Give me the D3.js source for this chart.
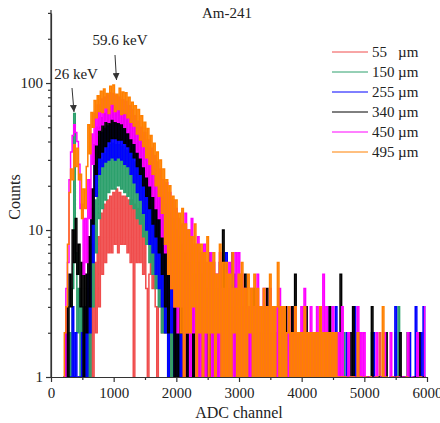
<!DOCTYPE html>
<html>
<head>
<meta charset="utf-8">
<script src="https://cdn.jsdelivr.net/npm/d3@7"></script>
<style>
body { margin: 0; background: #fff; }
text { font-family: "Liberation Serif", "Times New Roman", serif; fill: #222; }
</style>
</head>
<body>
<div id="chart"></div>
<script>
// ADC channels sampled every 25 channels
const channels = d3.range(200, 6000, 25);

const thickness = ["55", "150", "255", "340", "450", "495"];
const colors = ["#f04c4c", "#2ca06c", "#0000ff", "#000000", "#ff00ff", "#ff8000"];

const counts55 = [
  0, 0, 0, 0, 0, 0, 0, 0,
  0, 0, 1, 0, 0, 1, 0, 0,
  2, 0, 3, 1, 6, 2, 9, 3,
  13, 5, 15, 6, 16, 7, 17, 7,
  18, 8, 19, 7, 18, 8, 17, 8,
  17, 7, 16, 6, 16, 1, 15, 6,
  14, 6, 13, 5, 13, 4, 0, 5,
  11, 4, 10, 3, 0, 3, 9, 2,
  8, 2, 7, 0, 6, 1, 5, 0,
  5, 0, 4, 1, 3, 0, 2, 0,
  3, 0, 2, 0, 1, 0, 2, 0,
  2, 0, 1, 0, 2, 0, 0, 1,
  1, 0, 2, 0, 0, 1, 0, 0,
  2, 0, 0, 1, 0, 0, 1, 0,
  0, 2, 0, 0, 1, 0, 0, 1,
  0, 0, 2, 0, 0, 1, 0, 0,
  1, 0, 0, 0, 2, 0, 0, 0,
  0, 1, 0, 0, 0, 2, 0, 0,
  0, 0, 1, 0, 0, 0, 2, 0,
  1, 0, 0, 0, 1, 0, 0, 0,
  0, 0, 2, 0, 0, 0, 1, 0,
  0, 1, 0, 0, 0, 0, 0, 2,
  0, 0, 0, 1, 0, 0, 0, 0,
  0, 1, 0, 0, 0, 1, 0, 0,
  0, 0, 0, 1, 0, 0, 0, 0,
  0, 0, 2, 0, 0, 0, 0, 0,
  0, 0, 0, 0, 2, 0, 1, 0,
  0, 1, 0, 0, 0, 0, 0, 0,
  0, 0, 0, 0, 0, 1, 0, 0
];

const counts150 = [
  0, 0, 1, 0, 2, 1, 4, 62,
  7, 2, 4, 1, 3, 0, 2, 1,
  4, 1, 8, 3, 16, 7, 24, 12,
  30, 14, 33, 16, 36, 18, 38, 19,
  39, 19, 38, 20, 38, 19, 37, 18,
  35, 17, 34, 15, 32, 14, 29, 12,
  27, 11, 25, 9, 22, 8, 20, 6,
  18, 5, 16, 4, 15, 3, 13, 2,
  11, 2, 10, 1, 8, 0, 7, 1,
  6, 0, 5, 1, 4, 0, 4, 1,
  4, 0, 3, 1, 4, 0, 3, 0,
  3, 0, 2, 0, 3, 1, 2, 0,
  2, 0, 1, 0, 3, 0, 1, 0,
  2, 0, 1, 0, 2, 1, 0, 0,
  2, 0, 1, 0, 2, 0, 1, 0,
  1, 0, 2, 0, 1, 0, 2, 0,
  2, 0, 1, 0, 1, 0, 2, 0,
  1, 0, 2, 0, 0, 1, 0, 0,
  2, 0, 1, 0, 0, 2, 0, 0,
  1, 0, 0, 2, 0, 1, 0, 0,
  0, 2, 0, 0, 1, 0, 0, 1,
  0, 0, 2, 0, 1, 0, 0, 0,
  1, 0, 0, 2, 0, 0, 1, 0,
  0, 0, 1, 2, 0, 0, 0, 1,
  0, 1, 0, 0, 0, 2, 0, 0,
  0, 0, 1, 0, 0, 0, 2, 0,
  0, 0, 0, 1, 0, 0, 3, 0,
  0, 0, 0, 0, 2, 0, 0, 0,
  0, 1, 0, 0, 0, 0, 0, 0
];

const counts255 = [
  1, 0, 2, 0, 1, 0, 3, 1,
  2, 0, 1, 0, 2, 1, 3, 1,
  5, 2, 14, 6, 29, 17, 38, 24,
  46, 27, 49, 29, 51, 30, 52, 31,
  54, 30, 53, 31, 52, 30, 50, 28,
  48, 27, 46, 24, 42, 21, 38, 18,
  35, 16, 32, 13, 28, 10, 25, 8,
  22, 7, 20, 5, 17, 4, 15, 3,
  13, 2, 11, 1, 10, 2, 9, 0,
  8, 1, 6, 0, 7, 1, 5, 0,
  6, 0, 5, 1, 4, 0, 6, 1,
  4, 0, 5, 1, 3, 0, 4, 1,
  4, 1, 3, 0, 5, 0, 3, 1,
  7, 0, 3, 1, 7, 0, 4, 0,
  3, 0, 2, 1, 4, 0, 2, 0,
  3, 0, 2, 0, 3, 1, 2, 0,
  2, 0, 3, 0, 2, 1, 2, 0,
  2, 0, 3, 0, 1, 2, 0, 1,
  2, 0, 1, 3, 0, 2, 0, 1,
  2, 0, 3, 0, 1, 0, 2, 0,
  1, 0, 2, 0, 3, 0, 1, 0,
  2, 0, 3, 0, 1, 0, 3, 0,
  0, 1, 0, 1, 0, 2, 0, 0,
  1, 0, 3, 0, 0, 2, 0, 1,
  0, 1, 0, 1, 0, 0, 2, 0,
  1, 0, 0, 1, 0, 1, 0, 0,
  0, 1, 0, 0, 3, 0, 1, 0,
  0, 0, 1, 0, 0, 2, 0, 0,
  0, 3, 0, 0, 2, 0, 3, 0
];

const counts340 = [
  0, 1, 3, 1, 5, 3, 10, 6,
  12, 5, 8, 3, 6, 1, 5, 2,
  9, 3, 19, 11, 38, 24, 50, 31,
  58, 34, 62, 37, 66, 40, 69, 42,
  70, 42, 68, 41, 67, 41, 65, 39,
  62, 37, 60, 34, 56, 31, 52, 27,
  46, 24, 43, 20, 37, 17, 33, 14,
  29, 11, 26, 9, 23, 7, 20, 5,
  17, 3, 15, 2, 13, 4, 12, 1,
  10, 1, 9, 2, 8, 0, 7, 1,
  6, 0, 7, 1, 5, 2, 6, 0,
  5, 1, 6, 0, 4, 1, 7, 0,
  5, 0, 4, 1, 6, 0, 10, 1,
  5, 0, 4, 1, 3, 0, 5, 1,
  4, 0, 3, 1, 5, 0, 3, 0,
  3, 1, 4, 0, 3, 0, 2, 1,
  3, 0, 4, 0, 2, 1, 3, 0,
  2, 0, 3, 1, 2, 0, 3, 0,
  2, 0, 3, 0, 5, 0, 2, 0,
  2, 1, 0, 3, 0, 2, 0, 1,
  2, 0, 2, 0, 3, 0, 1, 0,
  2, 0, 3, 0, 2, 0, 1, 0,
  0, 5, 0, 1, 0, 1, 0, 2,
  0, 3, 0, 1, 0, 2, 0, 0,
  1, 0, 1, 0, 0, 3, 0, 1,
  0, 1, 0, 0, 1, 0, 2, 0,
  0, 0, 1, 0, 1, 0, 0, 2,
  0, 1, 0, 0, 2, 0, 0, 0,
  1, 0, 0, 2, 0, 0, 1, 0
];

const counts450 = [
  0, 1, 4, 6, 22, 34, 44, 52,
  46, 40, 28, 14, 15, 5, 12, 6,
  22, 12, 45, 28, 62, 38, 71, 48,
  78, 52, 80, 55, 83, 54, 86, 57,
  85, 55, 82, 54, 80, 53, 77, 50,
  75, 46, 70, 42, 66, 39, 60, 34,
  55, 31, 50, 27, 46, 23, 41, 20,
  36, 17, 32, 14, 29, 12, 26, 9,
  22, 7, 21, 5, 18, 4, 16, 3,
  14, 2, 12, 3, 11, 1, 13, 2,
  10, 1, 12, 2, 8, 0, 9, 1,
  7, 0, 8, 1, 6, 2, 7, 0,
  6, 1, 5, 0, 7, 1, 4, 0,
  5, 0, 6, 1, 4, 0, 7, 1,
  7, 0, 5, 1, 4, 0, 3, 1,
  4, 0, 3, 1, 5, 0, 3, 1,
  4, 1, 3, 0, 4, 0, 3, 1,
  3, 0, 4, 1, 3, 0, 2, 0,
  3, 0, 2, 1, 3, 0, 2, 0,
  3, 0, 4, 0, 2, 1, 3, 0,
  2, 0, 3, 0, 2, 0, 5, 0,
  3, 0, 2, 0, 3, 1, 2, 0,
  2, 0, 3, 0, 1, 0, 2, 0,
  1, 0, 1, 0, 3, 0, 2, 0,
  2, 0, 1, 0, 1, 0, 0, 1,
  2, 0, 0, 1, 0, 2, 0, 0,
  0, 2, 0, 1, 0, 0, 1, 0,
  0, 1, 0, 0, 2, 0, 0, 1,
  0, 0, 2, 0, 1, 0, 0, 3
];

const counts495 = [
  0, 2, 3, 8, 18, 26, 22, 38,
  27, 36, 22, 24, 12, 19, 14, 27,
  52, 33, 63, 50, 76, 58, 82, 64,
  88, 63, 91, 68, 85, 62, 95, 72,
  97, 64, 84, 66, 92, 61, 87, 62,
  86, 58, 80, 54, 74, 51, 70, 45,
  66, 41, 60, 37, 54, 31, 49, 28,
  44, 24, 39, 20, 34, 17, 30, 13,
  26, 8, 22, 5, 20, 4, 17, 3,
  16, 3, 13, 2, 14, 1, 11, 2,
  10, 2, 9, 3, 11, 1, 8, 2,
  8, 1, 7, 2, 9, 0, 6, 2,
  7, 1, 5, 2, 8, 1, 6, 0,
  6, 1, 5, 0, 7, 2, 4, 1,
  5, 1, 6, 0, 4, 1, 5, 2,
  4, 0, 5, 1, 4, 1, 3, 0,
  4, 1, 3, 0, 5, 1, 3, 0,
  3, 6, 1, 3, 0, 3, 1, 2,
  3, 0, 2, 1, 3, 0, 2, 1,
  2, 0, 3, 1, 2, 0, 2, 1,
  2, 0, 2, 1, 3, 0, 2, 0,
  2, 1, 2, 0, 2, 1, 2, 0,
  1, 0, 1, 0, 1, 0, 0, 1,
  0, 1, 0, 0, 2, 0, 1, 0,
  0, 1, 0, 0, 1, 0, 0, 0,
  1, 0, 0, 0, 3, 0, 1, 0,
  0, 0, 1, 0, 0, 1, 0, 0,
  0, 0, 0, 1, 0, 0, 0, 0,
  0, 0, 0, 0, 1, 0, 0, 0
];

const seriesCounts = [counts55, counts150, counts255, counts340, counts450, counts495];

const xTicks = [0, 1000, 2000, 3000, 4000, 5000, 6000];
const yTicks = [1, 10, 100];

let w = 440, h = 423;
let padLeft = 51, padRight = 427, padTop = 12.9, padBottom = 377;

let svg = d3.select('#chart')
  .append('svg')
  .attr('width', w)
  .attr('height', h);

let x = d3.scaleLinear().domain([0, 6000]).range([padLeft, padRight]);
let y = d3.scaleLog().domain([1, 300]).range([padBottom, padTop]);

svg.append('clipPath')
  .attr('id', 'plot')
  .append('rect')
  .attr('x', padLeft)
  .attr('y', 0)
  .attr('width', padRight - padLeft + 2)
  .attr('height', padBottom);

// step curve: each sample is joined to the next by a vertical stroke,
// which is how the dense per-channel spectrum reads at this size
let line = d3.line()
  .curve(d3.curveStep)
  .x((d, i) => x(channels[i]))
  .y(d => y(Math.max(d, 0.5)));

svg.append('g')
  .attr('clip-path', 'url(#plot)')
  .selectAll('path')
  .data(seriesCounts)
  .enter()
  .append('path')
  .attr('d', d => line(d))
  .attr('fill', 'none')
  .attr('stroke', (d, i) => colors[i])
  .attr('stroke-width', 1.5);

// axes
let xMinor = d3.range(500, 6000, 1000);
let yMinor = y.ticks().filter(t => !yTicks.includes(t));

let gx = svg.append('g').attr('transform', `translate(0,${padBottom})`);
gx.call(d3.axisBottom(x).tickValues(xTicks).tickFormat(d3.format('d')).tickSize(5).tickPadding(5).tickSizeOuter(0));
gx.append('g').call(d3.axisBottom(x).tickValues(xMinor).tickSize(3).tickFormat('').tickSizeOuter(0));

let gy = svg.append('g').attr('transform', `translate(${padLeft},0)`);
gy.call(d3.axisLeft(y).tickValues(yTicks).tickFormat(d3.format('d')).tickSize(5).tickPadding(3).tickSizeOuter(0));
gy.append('g').call(d3.axisLeft(y).tickValues(yMinor).tickSize(3).tickFormat('').tickSizeOuter(0));
gy.select('.domain').attr('d', `M0,${padBottom}V10`);

svg.selectAll('.domain, .tick line').attr('stroke', '#333').attr('stroke-width', 1.2);
svg.selectAll('.tick text')
  .style('font-family', '"Liberation Serif", serif')
  .style('font-size', '15px')
  .attr('fill', '#222');

// labels
svg.append('text')
  .attr('x', 239).attr('y', 418)
  .attr('text-anchor', 'middle')
  .style('font-size', '16px')
  .text('ADC channel');

svg.append('text')
  .attr('transform', 'translate(20,197) rotate(-90)')
  .attr('text-anchor', 'middle')
  .style('font-size', '16px')
  .text('Counts');

svg.append('text')
  .attr('x', 227).attr('y', 18)
  .attr('text-anchor', 'middle')
  .style('font-size', '15px')
  .text('Am-241');

// peak annotations
svg.append('defs').append('marker')
  .attr('id', 'arrow')
  .attr('viewBox', '0 0 10 10')
  .attr('refX', 10).attr('refY', 5)
  .attr('markerWidth', 7).attr('markerHeight', 7)
  .attr('markerUnits', 'userSpaceOnUse')
  .attr('orient', 'auto')
  .append('path')
  .attr('d', 'M0,0L10,5L0,10z')
  .attr('fill', '#333');

svg.append('text')
  .attr('x', 120).attr('y', 45)
  .attr('text-anchor', 'middle')
  .style('font-size', '15px')
  .text('59.6 keV');
svg.append('line')
  .attr('x1', 115).attr('y1', 55).attr('x2', 116.5).attr('y2', 80)
  .attr('stroke', '#333').attr('stroke-width', 1)
  .attr('marker-end', 'url(#arrow)');

svg.append('text')
  .attr('x', 76).attr('y', 79)
  .attr('text-anchor', 'middle')
  .style('font-size', '15px')
  .text('26 keV');
svg.append('line')
  .attr('x1', 72).attr('y1', 88).attr('x2', 74).attr('y2', 112)
  .attr('stroke', '#333').attr('stroke-width', 1)
  .attr('marker-end', 'url(#arrow)');

// legend
let legend = svg.append('g')
  .selectAll('g')
  .data(thickness)
  .enter()
  .append('g')
  .attr('transform', (d, i) => `translate(332,${52 + i * 20})`);

legend.append('line')
  .attr('x1', 0).attr('x2', 36)
  .attr('stroke', (d, i) => colors[i])
  .attr('stroke-width', 1);

legend.append('text')
  .attr('x', 40).attr('y', 5)
  .style('font-size', '15px')
  .text(d => d);

legend.append('text')
  .attr('x', 66).attr('y', 5)
  .style('font-size', '15px')
  .text('µm');
</script>
</body>
</html>
